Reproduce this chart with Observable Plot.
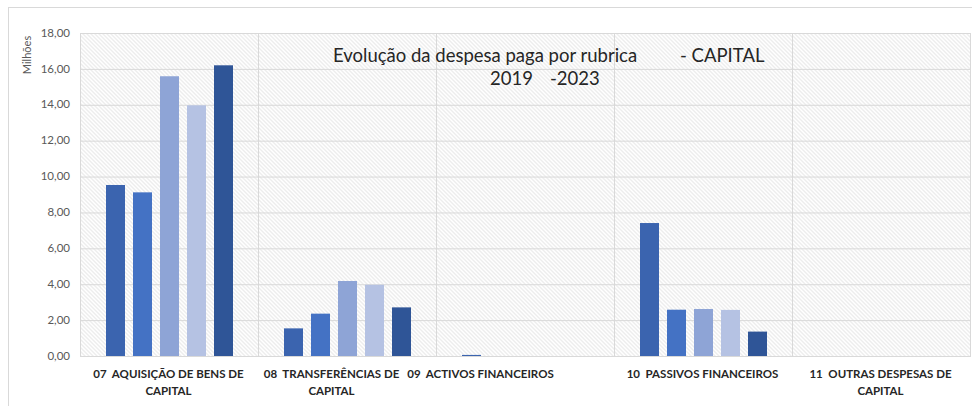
<!DOCTYPE html>
<html><head><meta charset="utf-8">
<script src="https://cdn.jsdelivr.net/npm/d3@7"></script>
<script src="https://cdn.jsdelivr.net/npm/@observablehq/plot@0.6"></script>
<style>
body{margin:0;background:#fff;font-family:Lato,sans-serif;}
#wrap{position:relative;width:972px;height:406px;overflow:hidden;}
#border{position:absolute;left:8px;top:7px;width:1000px;height:1000px;border:1px solid #d9d9d9;box-sizing:border-box;}
#chart{position:absolute;left:0;top:0;}
.t{position:absolute;font-size:18.5px;color:#262626;white-space:pre;line-height:1;}
#ylab{position:absolute;left:26px;top:55px;font-size:11px;color:#595959;transform:translate(-50%,-50%) rotate(-90deg);white-space:pre;}
</style></head><body>
<div id="wrap"><div id="border"></div><div id="chart"></div>
<div class="t" style="left:333px;top:46px">Evolução da despesa paga por rubrica</div>
<div class="t" style="left:680px;top:46px">- CAPITAL</div>
<div class="t" style="left:490px;top:69px">2019</div>
<div class="t" style="left:550px;top:69px">-2023</div>
<div id="ylab">Milhões</div>
</div>
<script>
const categories = ["07  AQUISIÇÃO DE BENS DE CAPITAL", "08  TRANSFERÊNCIAS DE CAPITAL", "09  ACTIVOS FINANCEIROS", "10  PASSIVOS FINANCEIROS", "11  OUTRAS DESPESAS DE CAPITAL"];
const labelLines = ["07\u00A0 AQUISIÇÃO DE BENS DE\nCAPITAL", "08\u00A0 TRANSFERÊNCIAS DE\nCAPITAL", "09\u00A0 ACTIVOS FINANCEIROS", "10\u00A0 PASSIVOS FINANCEIROS", "11\u00A0 OUTRAS DESPESAS DE\nCAPITAL"];
const years = ["2019", "2020", "2021", "2022", "2023"];
const v2019 = [9.53, 1.54, 0.06, 7.41, 0];
const v2020 = [9.12, 2.36, 0, 2.58, 0];
const v2021 = [15.59, 4.18, 0, 2.62, 0];
const v2022 = [13.97, 3.97, 0, 2.57, 0];
const v2023 = [16.20, 2.71, 0, 1.36, 0];
const yTicks = [0, 2, 4, 6, 8, 10, 12, 14, 16, 18];
const colors = ["#3B64AF", "#4472C4", "#8EA4D6", "#B5C2E3", "#2F5597"];

const series = [v2019, v2020, v2021, v2022, v2023];
const rows = [];
categories.forEach((c, i) => years.forEach((y, j) => rows.push({cat: c, year: y, value: series[j][i]})));
const labels = categories.map((c, i) => ({cat: c, text: labelLines[i]}));

// label shifts (Excel nudged two labels left to avoid overlap)
const labelMark = (idx, dx) => Plot.text(idx.map(i => labels[i]), {fx: "cat", text: "text", frameAnchor: "bottom", lineAnchor: "top", dy: 10, dx, fontSize: 11.5, fontWeight: "bold", fill: "#262626", lineHeight: 1.45});

const svg = Plot.plot({
  width: 972, height: 406,
  marginLeft: 79, marginRight: 1, marginTop: 33, marginBottom: 50,
  style: {fontFamily: "Lato, sans-serif", background: "transparent"},
  fx: {domain: categories, paddingInner: 0, paddingOuter: 0, axis: null},
  x: {domain: years, paddingInner: 0.31, paddingOuter: 0.935, axis: null},
  y: {domain: [0, 18], ticks: yTicks, axis: null},
  color: {domain: years, range: colors},
  marks: [
    Plot.frame({fill: "url(#hatch)", stroke: "#d9d9d9", strokeWidth: 1}),
    Plot.gridY(yTicks, {stroke: "#d9d9d9", strokeOpacity: 1, strokeWidth: 1}),
    Plot.barY(rows, {fx: "cat", x: "year", y: "value", fill: "year"}),
    labelMark([0, 3, 4], -1),
    labelMark([1], -16),
    labelMark([2], -45)
  ]
});
const yScale = svg.scale("y");
d3.select(svg).append("g").attr("font-size", 11.5).attr("fill", "#595959").attr("text-anchor", "end")
  .selectAll("text").data(yTicks).join("text")
  .attr("x", 70).attr("y", d => yScale.apply(d)).attr("dy", "0.32em")
  .text(d => d.toFixed(2).replace(".", ","));
const defs = d3.select(svg).insert("defs", ":first-child");
const pat = defs.append("pattern").attr("id", "hatch").attr("patternUnits", "userSpaceOnUse").attr("width", 4).attr("height", 4);
pat.append("rect").attr("width", 4).attr("height", 4).attr("fill", "#ffffff");
pat.append("path").attr("d", "M-1,-1L5,5M-1,3L1,5M3,-1L5,1").attr("stroke", "#d6d6d6").attr("stroke-width", 0.9);
document.getElementById("chart").appendChild(svg);
</script>
</body></html>
